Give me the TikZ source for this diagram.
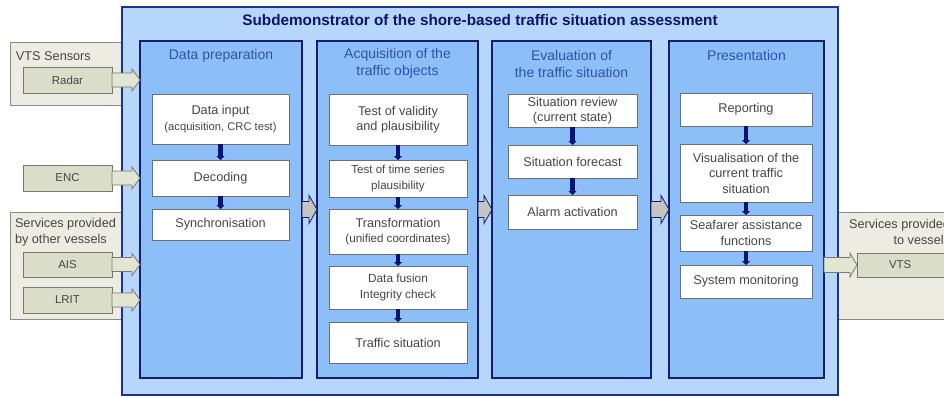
\documentclass[tikz,border=0pt]{standalone}
\usepackage{fontspec}
\setmainfont{Liberation Sans}
\usetikzlibrary{calc,arrows.meta}
\definecolor{mainfill}{RGB}{182,215,251}
\definecolor{mainborder}{RGB}{30,50,150}
\definecolor{colfill}{RGB}{140,191,247}
\definecolor{colborder}{RGB}{20,30,110}
\definecolor{titlecol}{RGB}{10,20,110}
\definecolor{coltitle}{RGB}{50,80,170}
\definecolor{boxtext}{RGB}{70,70,70}
\definecolor{boxborder}{RGB}{110,110,110}
\definecolor{grpfill}{RGB}{236,236,226}
\definecolor{grpborder}{RGB}{140,140,135}
\definecolor{srcfill}{RGB}{218,222,200}
\definecolor{srcborder}{RGB}{120,120,110}
\definecolor{arrfill}{RGB}{226,229,210}
\definecolor{grayarr}{RGB}{196,196,192}
\definecolor{navyconn}{RGB}{10,20,120}
\newcommand{\fs}[1]{\fontsize{#1}{15.5}\selectfont}
\newcommand{\blockarrow}[6]{%
  \draw[#1] let \p1=(#2), \p2=(#3) in
    (\x1,\y1+#4) -- (\x2-#6,\y1+#4) -- (\x2-#6,\y1+#5) -- (\x2,\y1)
    -- (\x2-#6,\y1-#5) -- (\x2-#6,\y1-#4) -- (\x1,\y1-#4) -- cycle;}
\begin{document}
\begin{tikzpicture}[x=1pt,y=-1pt,
  every node/.style={inner sep=0pt, outer sep=0pt},
  mainbox/.style={draw=mainborder, line width=1.6pt, fill=mainfill},
  colbox/.style={draw=colborder, line width=1.6pt, fill=colfill},
  innerbox/.style={draw=boxborder, line width=1pt, fill=white, text=boxtext, align=center, font=\fs{12.7}},
  grpbox/.style={draw=grpborder, line width=1pt, fill=grpfill},
  srcbox/.style={draw=srcborder, line width=1pt, fill=srcfill, text=boxtext, font=\fs{11.4}},
  srcarrow/.style={draw=srcborder, line width=0.8pt, fill=arrfill},
  colarrow/.style={draw=colborder, line width=0.8pt, fill=grayarr},
  conn/.style={draw=navyconn, line width=4.5pt, -{Triangle[width=8pt,length=4pt]}},
  coltitlet/.style={text=coltitle, align=center, font=\fontsize{14}{17}\selectfont},
  grptext/.style={text=boxtext, font=\fontsize{12.7}{16}\selectfont}
]
\useasboundingbox (0,0) rectangle (944,396);
\clip (0,0) rectangle (944,396);
\fill[white] (0,0) rectangle (944,396);

% outer groups
\node[grpbox, minimum width=112pt, minimum height=62pt] (vtsgrp) at (66,74) {};
\node[grptext, anchor=west] (vtslabel) at (16,56) {VTS Sensors};
\node[grpbox, minimum width=112pt, minimum height=107pt] (svcgrp) at (66,265.5) {};
\node[grptext, anchor=west, align=left] (svclabel) at (15,232) {Services provided\\by other vessels};
\node[grpbox, minimum width=130pt, minimum height=107pt] (outgrp) at (903,265.5) {};
\node[grptext, anchor=east, align=right] (outlabel) at (950,232) {Services provided\\to vessels};

% main box
\node[mainbox, minimum width=716pt, minimum height=388pt] (main) at (480,201) {};
\node[text=titlecol, font=\bfseries\fontsize{15.3}{18}\selectfont] (title) at (480,20) {Subdemonstrator of the shore-based traffic situation assessment};

% columns
\node[colbox, minimum width=162pt, minimum height=337pt] (col1) at (221,209.5) {};
\node[colbox, minimum width=161pt, minimum height=337pt] (col2) at (397.5,209.5) {};
\node[colbox, minimum width=159pt, minimum height=337pt] (col3) at (571.5,209.5) {};
\node[colbox, minimum width=155pt, minimum height=337pt] (col4) at (746.5,209.5) {};

\node[coltitlet] (t1) at (221,56) {Data preparation};
\node[coltitlet] (t2) at (397.5,63.5) {Acquisition of the\\traffic objects};
\node[coltitlet] (t3) at (571.5,63.5) {Evaluation of\\the traffic situation};
\node[coltitlet] (t4) at (746.5,55) {Presentation};

% source boxes
\node[srcbox, minimum width=89pt, minimum height=26pt] (radar) at (67.5,80) {Radar};
\node[srcbox, minimum width=89pt, minimum height=26pt] (enc) at (67.5,178) {ENC};
\node[srcbox, minimum width=89pt, minimum height=25pt] (ais) at (67.5,264.5) {AIS};
\node[srcbox, minimum width=89pt, minimum height=26pt] (lrit) at (67.5,300) {LRIT};
\node[srcbox, minimum width=105pt, minimum height=24pt, text width=105pt, align=left] (vts) at (909.5,265) {\hspace{32pt}VTS};

% source arrows
\blockarrow{srcarrow}{radar.east}{col1.west |- radar.east}{7pt}{11pt}{8pt}
\blockarrow{srcarrow}{enc.east}{col1.west |- enc.east}{7pt}{11pt}{8pt}
\blockarrow{srcarrow}{ais.east}{col1.west |- ais.east}{7pt}{11pt}{8pt}
\blockarrow{srcarrow}{lrit.east}{col1.west |- lrit.east}{7pt}{11pt}{8pt}
\blockarrow{srcarrow}{col4.east |- vts.west}{vts.west}{7.5pt}{12pt}{7pt}

% column arrows
\blockarrow{colarrow}{col1.east}{col2.west}{8pt}{14pt}{8pt}
\blockarrow{colarrow}{col2.east}{col3.west}{8pt}{14pt}{8pt}
\blockarrow{colarrow}{col3.east}{col4.west}{8pt}{14pt}{8pt}

% column 1
\node[innerbox, minimum width=137pt, minimum height=50pt] (datain) at (220.5,119) {Data input\\{\fs{11.2}(acquisition, CRC test)}};
\node[innerbox, minimum width=137pt, minimum height=36pt] (decoding) at (220.5,178) {Decoding};
\node[innerbox, minimum width=137pt, minimum height=31pt] (sync) at (220.5,224.5) {Synchronisation};
\draw[conn] (datain) -- (decoding);
\draw[conn] (decoding) -- (sync);

% column 2
\node[innerbox, minimum width=138pt, minimum height=51pt] (valid) at (398,119.5) {Test of validity\\and plausibility};
\node[innerbox, minimum width=138pt, minimum height=37pt, font=\fs{11.6}] (tseries) at (398,178.5) {Test of time series\\plausibility};
\node[innerbox, minimum width=138pt, minimum height=45pt] (transform) at (398,231.5) {Transformation\\{\fs{11.6}(unified coordinates)}};
\node[innerbox, minimum width=138pt, minimum height=43pt, font=\fs{11.8}] (fusion) at (398,287.5) {Data fusion\\Integrity check};
\node[innerbox, minimum width=138pt, minimum height=41pt] (traffic) at (398,342.5) {Traffic situation};
\draw[conn] (valid) -- (tseries);
\draw[conn] (tseries) -- (transform);
\draw[conn] (transform) -- (fusion);
\draw[conn] (fusion) -- (traffic);

% column 3
\node[innerbox, minimum width=129pt, minimum height=33pt] (review) at (572.5,110.5) {Situation review\\(current state)};
\node[innerbox, minimum width=129pt, minimum height=33pt] (forecast) at (572.5,161.5) {Situation forecast};
\node[innerbox, minimum width=129pt, minimum height=34pt] (alarm) at (572.5,212) {Alarm activation};
\draw[conn] (review) -- (forecast);
\draw[conn] (forecast) -- (alarm);

% column 4
\node[innerbox, minimum width=132pt, minimum height=33pt] (reporting) at (746,109.5) {Reporting};
\node[innerbox, minimum width=132pt, minimum height=58pt] (visual) at (746,173) {Visualisation of the\\current traffic\\situation};
\node[innerbox, minimum width=132pt, minimum height=36pt] (seafarer) at (746,233) {Seafarer assistance\\functions};
\node[innerbox, minimum width=132pt, minimum height=33pt] (sysmon) at (746,281.5) {System monitoring};
\draw[conn] (reporting) -- (visual);
\draw[conn] (visual) -- (seafarer);
\draw[conn] (seafarer) -- (sysmon);
\end{tikzpicture}
\end{document}
